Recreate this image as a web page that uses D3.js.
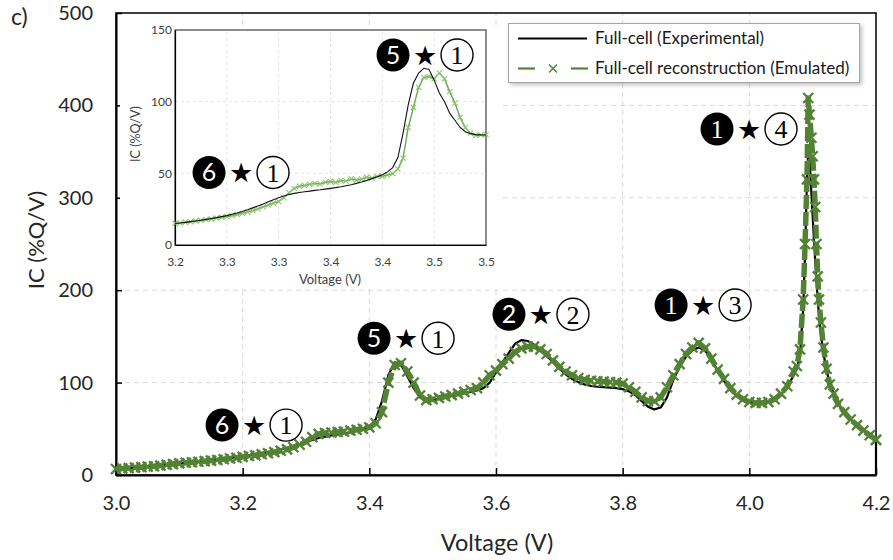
<!DOCTYPE html>
<html>
<head>
<meta charset="utf-8">
<script src="https://cdn.jsdelivr.net/npm/d3@7"></script>
<style>
  html, body { margin: 0; padding: 0; background: #fff; }
  svg { display: block; font-family: Lato, "Open Sans", sans-serif; }
</style>
</head>
<body>
<svg id="chart" width="893" height="560"></svg>
<script>
// ---- incremental capacity of the full cell, 3.0–4.2 V ----
const voltage = [
  3.00,3.01,3.02,3.03,3.04,3.05,3.06,3.07,3.08,3.09,
  3.10,3.11,3.12,3.13,3.14,3.15,3.16,3.17,3.18,3.19,
  3.20,3.21,3.22,3.23,3.24,3.25,3.26,3.27,3.28,3.29,
  3.30,3.31,3.32,3.33,3.34,3.35,3.36,3.37,3.38,3.39,
  3.40,3.41,3.42,3.43,3.44,3.45,3.46,3.47,3.48,3.49,
  3.50,3.51,3.52,3.53,3.54,3.55,3.56,3.57,3.58,3.59,
  3.60,3.61,3.62,3.63,3.64,3.65,3.66,3.67,3.68,3.69,
  3.70,3.71,3.72,3.73,3.74,3.75,3.76,3.77,3.78,3.79,
  3.80,3.81,3.82,3.83,3.84,3.85,3.86,3.87,3.88,3.89,
  3.90,3.91,3.92,3.93,3.94,3.95,3.96,3.97,3.98,3.99,
  4.00,4.01,4.02,4.03,4.04,4.05,4.06,
  4.070,4.075,4.080,4.085,4.088,4.091,4.093,4.095,4.098,4.100,
  4.102,4.104,4.106,4.108,4.110,4.113,4.117,4.122,4.127,4.133,
  4.14,4.15,4.16,4.17,4.18,4.19,4.20,4.20
];

// Full-cell (Experimental), %Q/V
const experimentalIC = [
  6.5,7.0,7.5,8.0,8.5,9.0,9.6,10.2,10.9,11.7,
  12.5,13.2,13.9,14.6,15.3,16.0,16.8,17.6,18.4,19.3,
  20.2,21.2,22.3,23.5,24.8,26.2,27.8,29.5,31.4,33.5,
  35.8,38.0,40.0,41.5,42.8,44.0,45.0,46.2,47.6,49.3,
  52.0,60.0,80.0,108.0,122.0,119.0,107.0,94.0,84.0,80.0,
  81.0,82.5,84.0,85.5,87.0,88.5,90.0,91.5,94.0,100.0,
  111.0,122.0,132.0,142.0,146.0,145.0,141.0,135.0,129.0,122.0,
  115.0,109.0,104.0,100.5,98.0,96.5,95.5,95.0,94.5,94.0,
  93.0,90.5,86.5,80.0,74.0,71.0,73.0,84.0,103.0,117.0,
  128.0,135.0,138.0,135.0,125.0,113.0,102.0,93.0,86.0,81.5,
  79.0,78.0,78.0,79.0,82.0,87.0,95.0,
  108,115,130,180,240,320,352,345,305,280,
  255,232,210,190,172,152,132,113,99,88,
  77,68,60,54,48,43,38,0
];

// Full-cell reconstruction (Emulated), %Q/V
const emulatedIC = [
  6.5,7.0,7.5,8.0,8.5,9.0,9.5,10.2,11.0,11.8,
  12.6,13.2,13.8,14.4,15.0,15.6,16.3,17.0,17.8,18.7,
  19.6,20.5,21.4,22.4,23.6,24.8,26.2,27.8,30.0,32.8,
  36.0,41.0,44.5,45.5,46.0,46.5,47.0,48.0,49.0,50.0,
  51.5,56.0,68.0,100.0,119.0,121.0,112.0,100.0,86.0,81.0,
  82.0,83.5,85.0,86.5,88.0,90.0,92.0,94.0,100.0,108.0,
  113.0,120.0,126.0,133.0,137.0,139.0,139.0,136.0,131.0,124.0,
  117.0,112.0,108.0,105.0,103.0,102.0,101.5,101.0,100.5,100.0,
  99.0,95.0,90.0,84.0,80.0,80.0,84.0,95.0,108.0,120.0,
  131.0,138.0,143.0,137.0,126.0,114.0,104.0,94.0,87.0,82.0,
  79.0,78.0,78.0,79.0,82.0,88.0,96.0,
  112,118,136,190,250,320,408,390,365,345,
  320,290,250,215,190,165,138,115,98,88,
  77,68,60,54,48,43,38,38
];

// ---- detail of the 3.2–3.5 V region ----
const insetVoltage = [
  3.200,3.205,3.210,3.215,3.220,3.225,3.230,3.235,3.240,3.245,
  3.250,3.255,3.260,3.265,3.270,3.275,3.280,3.285,3.290,3.295,
  3.300,3.305,3.310,3.315,3.320,3.325,3.330,3.335,3.340,3.345,
  3.350,3.355,3.360,3.365,3.370,3.375,3.380,3.385,3.390,3.395,
  3.400,3.405,3.410,3.415,3.420,3.425,3.430,3.435,3.440,3.445,
  3.450,3.455,3.460,3.465,3.470,3.475,3.480,3.485,3.490,3.495,
  3.500
];
const insetExperimentalIC = [
  15.0,15.4,15.8,16.3,16.8,17.3,17.9,18.5,19.1,19.8,
  20.5,21.4,22.3,23.4,24.6,25.9,27.2,28.6,30.1,31.6,
  33.0,34.2,35.2,36.0,36.6,37.1,37.6,38.1,38.5,39.0,
  39.5,40.0,40.6,41.3,42.0,43.0,44.0,45.1,46.3,47.6,
  49.0,51.0,54.0,61.0,78.0,98.0,113.0,120.0,123.3,122.5,
  115.0,106.0,100.0,92.0,87.0,82.0,79.0,77.7,77.0,76.8,
  76.7
];
const insetEmulatedIC = [
  15.1,15.4,15.8,16.2,16.7,17.2,17.7,18.2,18.8,19.3,
  19.9,20.6,21.3,22.1,23.0,24.0,25.2,26.6,27.9,29.2,
  30.4,33.0,36.5,39.5,41.0,41.5,42.3,43.0,42.6,43.8,
  44.3,43.7,45.0,44.6,46.2,45.4,46.0,47.2,46.8,47.8,
  47.9,48.8,49.8,53.0,60.5,82.0,96.0,110.0,117.0,117.5,
  116.0,120.0,116.0,107.0,99.0,89.0,82.0,78.0,76.5,76.8,
  77.0
];

// ---- axes and labels ----
const mainXTicks = [3.0, 3.2, 3.4, 3.6, 3.8, 4.0, 4.2];
const mainYTicks = [0, 100, 200, 300, 400, 500];
const insetXTicks = [3.20, 3.25, 3.30, 3.35, 3.40, 3.45, 3.50];
const insetXTickLabels = ["3.2", "3.3", "3.3", "3.4", "3.4", "3.5", "3.5"];
const insetYTicks = [0, 50, 100, 150];
const seriesNames = ["Full-cell (Experimental)", "Full-cell reconstruction (Emulated)"];

// peak assignments: filled digit ★ circled digit, anchored in data units
const mainTags = [
  { filled: "6", open: "1", v: 3.218, ic: 54 },
  { filled: "5", open: "1", v: 3.458, ic: 148 },
  { filled: "2", open: "2", v: 3.671, ic: 174 },
  { filled: "1", open: "3", v: 3.927, ic: 184 },
  { filled: "1", open: "4", v: 3.9995, ic: 374.5 }
];
const insetTags = [
  { filled: "6", open: "1", v: 3.2637, ic: 50.6 },
  { filled: "5", open: "1", v: 3.4412, ic: 132.6 }
];

const GREEN = "#548235";
const svg = d3.select("#chart");

const defs = svg.append("defs");
const shadow = defs.append("filter").attr("id", "legendShadow")
  .attr("x", "-10%").attr("y", "-20%").attr("width", "130%").attr("height", "160%");
shadow.append("feDropShadow").attr("dx", 2).attr("dy", 2).attr("stdDeviation", 2)
  .attr("flood-color", "#000").attr("flood-opacity", 0.25);

const mainData = voltage.map((v, i) => ({ v, exp: experimentalIC[i], emu: emulatedIC[i] }));
const insetData = insetVoltage.map((v, i) => ({ v, exp: insetExperimentalIC[i], emu: insetEmulatedIC[i] }));

const xMain = d3.scaleLinear().domain([3.0, 4.2]).range([116, 876]);
const yMain = d3.scaleLinear().domain([0, 500]).range([475, 13]);

const crossPath = r => `M${-r},${-r}L${r},${r}M${-r},${r}L${r},${-r}`;

// grid
const grid = svg.append("g").attr("stroke", "#d9d9d9").attr("stroke-width", 1).attr("stroke-dasharray", "5,4");
grid.selectAll(".gx").data(mainXTicks.slice(1, -1)).join("line")
  .attr("x1", d => xMain(d)).attr("x2", d => xMain(d))
  .attr("y1", yMain(0)).attr("y2", yMain(500));
grid.selectAll(".gy").data(mainYTicks.slice(1, -1)).join("line")
  .attr("x1", xMain(3.0)).attr("x2", xMain(4.2))
  .attr("y1", d => yMain(d)).attr("y2", d => yMain(d));

// axes
const xAxis = svg.append("g").attr("transform", `translate(0,${yMain(0)})`)
  .call(d3.axisBottom(xMain).tickValues(mainXTicks).tickFormat(d3.format(".1f"))
    .tickSizeInner(-7).tickSizeOuter(0).tickPadding(21));
const yAxis = svg.append("g").attr("transform", `translate(${xMain(3.0)},0)`)
  .call(d3.axisLeft(yMain).tickValues(mainYTicks).tickFormat(d3.format("d"))
    .tickSizeInner(-6).tickSizeOuter(0).tickPadding(23));
[xAxis, yAxis].forEach(a => {
  a.select(".domain").attr("stroke", "#000").attr("stroke-width", 2);
  a.selectAll(".tick line").attr("stroke", "#000").attr("stroke-width", 1.5);
  a.selectAll(".tick text").attr("font-size", 20).attr("fill", "#262626")
    .attr("font-family", "Lato, sans-serif");
});

// plot frame
svg.append("rect")
  .attr("x", xMain(3.0)).attr("y", yMain(500))
  .attr("width", xMain(4.2) - xMain(3.0)).attr("height", yMain(0) - yMain(500))
  .attr("fill", "none").attr("stroke", "#000").attr("stroke-width", 1.5);

// axis titles
svg.append("text").attr("x", 497).attr("y", 543).attr("dy", "0.35em")
  .attr("text-anchor", "middle").attr("font-size", 23.5).attr("fill", "#262626")
  .text("Voltage (V)");
svg.append("text").attr("transform", "translate(36,240) rotate(-90)").attr("dy", "0.35em")
  .attr("text-anchor", "middle").attr("font-size", 22).attr("fill", "#262626")
  .text("IC (%Q/V)");
svg.append("text").attr("x", 11).attr("y", 25).attr("font-size", 23).attr("fill", "#262626").text("c)");

// curves
const lineExp = d3.line().x(d => xMain(d.v)).y(d => yMain(d.exp));
const lineEmu = d3.line().x(d => xMain(d.v)).y(d => yMain(d.emu));

svg.append("path").datum(mainData).attr("d", lineExp)
  .attr("fill", "none").attr("stroke", "#000").attr("stroke-width", 2.2).attr("stroke-linejoin", "round");
svg.append("path").datum(mainData).attr("d", lineEmu)
  .attr("fill", "none").attr("stroke", GREEN).attr("stroke-width", 5.5)
  .attr("stroke-dasharray", "14,3").attr("stroke-linejoin", "round");
svg.append("g").selectAll("path").data(mainData).join("path")
  .attr("transform", d => `translate(${xMain(d.v)},${yMain(d.emu)})`)
  .attr("d", crossPath(5))
  .attr("fill", "none").attr("stroke", GREEN).attr("stroke-width", 2.3);

// tags
function drawTag(g, cx, cy, tag) {
  const t = g.append("g").attr("transform", `translate(${cx},${cy})`);
  t.append("circle").attr("cx", -32).attr("r", 16.5).attr("fill", "#000");
  t.append("text").attr("x", -32).attr("dy", "0.36em").attr("text-anchor", "middle")
    .attr("fill", "#fff").attr("font-size", tag.filled === "1" ? 26 : 25)
    .attr("font-family", tag.filled === "1" ? "'Liberation Serif', serif" : "Lato, sans-serif")
    .text(tag.filled);
  t.append("text").attr("dy", "0.36em").attr("text-anchor", "middle")
    .attr("font-size", 27).attr("font-family", "'DejaVu Sans', sans-serif").attr("fill", "#000")
    .text("★");
  t.append("circle").attr("cx", 32).attr("r", 16).attr("fill", "#fff")
    .attr("stroke", "#000").attr("stroke-width", 1.4);
  t.append("text").attr("x", 32).attr("dy", "0.36em").attr("text-anchor", "middle")
    .attr("font-size", 26).attr("font-family", "'Liberation Serif', serif").attr("fill", "#000")
    .text(tag.open);
}
const tagLayer = svg.append("g");
mainTags.forEach(t => drawTag(tagLayer, xMain(t.v), yMain(t.ic), t));

// ---- inset ----
const inset = svg.append("g");
inset.append("rect").attr("x", 120).attr("y", 27).attr("width", 380).attr("height", 262).attr("fill", "#fff");
const xIn = d3.scaleLinear().domain([3.2, 3.5]).range([175, 486]);
const yIn = d3.scaleLinear().domain([0, 150]).range([245, 30]);

const gridIn = inset.append("g").attr("stroke", "#e3e3e3").attr("stroke-dasharray", "3,3").attr("stroke-width", 1);
gridIn.selectAll(".gx").data(insetXTicks.slice(1, -1)).join("line")
  .attr("x1", d => xIn(d)).attr("x2", d => xIn(d)).attr("y1", yIn(0)).attr("y2", yIn(150));
gridIn.selectAll(".gy").data(insetYTicks.slice(1, -1)).join("line")
  .attr("x1", xIn(3.2)).attr("x2", xIn(3.5)).attr("y1", d => yIn(d)).attr("y2", d => yIn(d));

inset.append("rect").attr("x", xIn(3.2)).attr("y", yIn(150))
  .attr("width", xIn(3.5) - xIn(3.2)).attr("height", yIn(0) - yIn(150))
  .attr("fill", "none").attr("stroke", "#404040").attr("stroke-width", 1.2);

const ixAxis = inset.append("g").attr("transform", `translate(0,${yIn(0)})`)
  .call(d3.axisBottom(xIn).tickValues(insetXTicks).tickFormat((d, i) => insetXTickLabels[i])
    .tickSize(0).tickPadding(12));
const iyAxis = inset.append("g").attr("transform", `translate(${xIn(3.2)},0)`)
  .call(d3.axisLeft(yIn).tickValues(insetYTicks).tickFormat(d3.format("d"))
    .tickSize(0).tickPadding(3));
[ixAxis, iyAxis].forEach(a => {
  a.select(".domain").attr("stroke", "#000").attr("stroke-width", 1.2);
  a.selectAll(".tick text").attr("font-size", 12).attr("fill", "#404040")
    .attr("font-family", "Lato, sans-serif");
});
inset.append("text").attr("x", 330).attr("y", 279).attr("dy", "0.35em")
  .attr("text-anchor", "middle").attr("font-size", 13).attr("fill", "#404040").text("Voltage (V)");
inset.append("text").attr("transform", "translate(136,134) rotate(-90)").attr("dy", "0.35em")
  .attr("text-anchor", "middle").attr("font-size", 12.5).attr("fill", "#404040").text("IC (%Q/V)");

const lineInExp = d3.line().x(d => xIn(d.v)).y(d => yIn(d.exp));
const lineInEmu = d3.line().x(d => xIn(d.v)).y(d => yIn(d.emu));
inset.append("path").datum(insetData).attr("d", lineInEmu)
  .attr("fill", "none").attr("stroke", "#6aa84f").attr("stroke-width", 1.4);
inset.append("g").selectAll("path").data(insetData).join("path")
  .attr("transform", d => `translate(${xIn(d.v)},${yIn(d.emu)})`)
  .attr("d", crossPath(2.6))
  .attr("fill", "none").attr("stroke", "#8cc46c").attr("stroke-width", 1.1);
inset.append("path").datum(insetData).attr("d", lineInExp)
  .attr("fill", "none").attr("stroke", "#111").attr("stroke-width", 1.1);

const insetTagLayer = inset.append("g");
insetTags.forEach(t => drawTag(insetTagLayer, xIn(t.v), yIn(t.ic), t));

// ---- legend ----
const legend = svg.append("g");
legend.append("rect").attr("x", 508.5).attr("y", 23.5).attr("width", 351).attr("height", 59)
  .attr("fill", "#fff").attr("stroke", "#a6a6a6").attr("stroke-width", 1)
  .attr("filter", "url(#legendShadow)");
legend.append("line").attr("x1", 518).attr("x2", 587).attr("y1", 38.5).attr("y2", 38.5)
  .attr("stroke", "#000").attr("stroke-width", 2.2);
legend.append("line").attr("x1", 518).attr("x2", 535).attr("y1", 68.5).attr("y2", 68.5)
  .attr("stroke", GREEN).attr("stroke-width", 2.2);
legend.append("line").attr("x1", 571).attr("x2", 588).attr("y1", 68.5).attr("y2", 68.5)
  .attr("stroke", GREEN).attr("stroke-width", 2.2);
legend.append("path").attr("transform", "translate(553,68.5)").attr("d", crossPath(4))
  .attr("fill", "none").attr("stroke", GREEN).attr("stroke-width", 1.5);
legend.selectAll("text.lbl").data(seriesNames).join("text")
  .attr("x", 595).attr("y", (d, i) => 38.5 + i * 30).attr("dy", "0.35em")
  .attr("font-size", 17).attr("fill", "#1a1a1a").text(d => d);
</script>
</body>
</html>
